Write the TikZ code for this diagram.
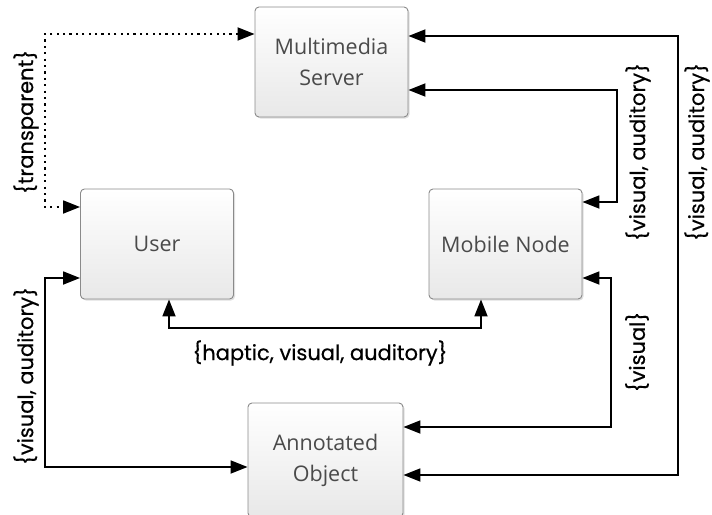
\documentclass[tikz,border=0pt]{standalone}
\usepackage{fontspec}
\setmainfont{Open Sans}
\newfontfamily\labelfont{Poppins}[FakeBold=0.5]
\usetikzlibrary{arrows.meta,shadows}
\definecolor{boxtext}{HTML}{4A4A4A}
\definecolor{boxborder}{HTML}{8A8A8A}
\tikzset{
  unitbox/.style={rectangle, rounded corners=4pt, draw=boxborder, line width=0.9pt,
    top color=white, bottom color=black!9, shading angle=0,
    drop shadow={shadow xshift=1.5pt, shadow yshift=-1.5pt, fill=black!25, opacity=0.5},
    text=boxtext, font=\fontsize{21.5}{31}\selectfont, align=center,
    minimum width=153pt, minimum height=110pt, inner sep=0pt},
  conn/.style={line width=1.8pt, {Triangle[length=17pt,width=13pt]}-{Triangle[length=17pt,width=13pt]}},
  dotconn/.style={conn, dash pattern=on 2.2pt off 4.2pt},
  lbl/.style={font=\labelfont\fontsize{21}{24}\selectfont, text=black, inner sep=0pt}
}
\begin{document}
\begin{tikzpicture}[x=1pt,y=-1pt]
\useasboundingbox (0,0) rectangle (712,514);
\begin{scope}
\clip (0,0) rectangle (712,514);
\node[unitbox] (server) at (331.5,62) {Multimedia\\Server};
\node[unitbox] (user) at (157,244) {User};
\node[unitbox] (mobile) at (505.5,244) {Mobile Node};
\node[unitbox, minimum width=155pt, minimum height=114pt] (object) at (325.5,460) {Annotated\\Object};
\end{scope}

\draw[dotconn] (server.west |- 0,34) -- (45,34) -- (45,207) -- (user.west |- 0,207);
\draw[conn] (server.east |- 0,36) -- (678,36) -- (678,475) -- (object.east |- 0,475);
\draw[conn] (server.east |- 0,90) -- (617,90) -- (617,202) -- (mobile.east |- 0,202);
\draw[conn] (mobile.east |- 0,278) -- (611,278) -- (611,427) -- (object.east |- 0,427);
\draw[conn] (user.south -| 169,0) -- (169,328) -- (481,328) -- (mobile.south -| 481,0);
\draw[conn] (user.west |- 0,278) -- (45,278) -- (45,467) -- (object.west |- 0,467);

\node[lbl, rotate=90] (ltrans) at (26,122) {\{transparent\}};
\node[lbl, rotate=90] (lva1) at (638,152) {\{visual, auditory\}};
\node[lbl, rotate=90] (lva2) at (697,152) {\{visual, auditory\}};
\node[lbl, rotate=90] (lva3) at (26,376) {\{visual, auditory\}};
\node[lbl] (lhva) at (320,353) {\{haptic, visual, auditory\}};
\node[lbl, rotate=90] (lvis) at (637,352) {\{visual\}};
\end{tikzpicture}
\end{document}
